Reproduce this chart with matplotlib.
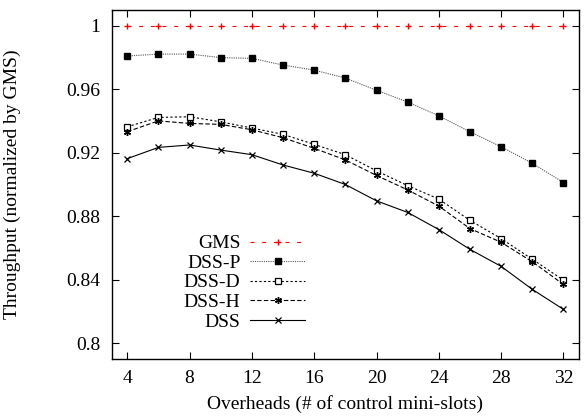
import numpy as np
import matplotlib
matplotlib.use('Agg')
import matplotlib.pyplot as plt

plt.rcParams['font.family'] = ['Liberation Serif', 'DejaVu Serif']
plt.rcParams['mathtext.fontset'] = 'stix'

# ── data ─────────────────────────────────────────────────────────────────────
overheads = [4, 6, 8, 10, 12, 14, 16, 18, 20, 22, 24, 26, 28, 30, 32]
gms   = [1.0] * 15
dss_p = [0.981, 0.9822, 0.9822, 0.980, 0.9795, 0.9753, 0.9721, 0.9671,
         0.9594, 0.952, 0.9433, 0.9332, 0.9238, 0.9134, 0.9012]
dss_d = [0.9364, 0.9423, 0.9427, 0.9395, 0.9356, 0.9316, 0.9253, 0.9188,
         0.9086, 0.8993, 0.8908, 0.8774, 0.8659, 0.8529, 0.8397]
dss_h = [0.9333, 0.9401, 0.9385, 0.9379, 0.9345, 0.9295, 0.9228, 0.9155,
         0.9057, 0.8966, 0.8864, 0.8722, 0.8636, 0.8513, 0.837]
dss   = [0.9163, 0.9234, 0.9249, 0.9217, 0.9188, 0.9123, 0.9071, 0.900,
         0.8897, 0.8824, 0.8716, 0.8591, 0.8484, 0.8339, 0.8213]

xticks = [4, 8, 12, 16, 20, 24, 28, 32]
yticks = [0.8, 0.84, 0.88, 0.92, 0.96, 1.0]
ytick_labels = ['0.8', '0.84', '0.88', '0.92', '0.96', '1']

# ── plot ─────────────────────────────────────────────────────────────────────
FS = 14
fig = plt.figure(figsize=(5.86, 4.18), dpi=100)
ax = fig.add_axes([111.7/586, 1 - 359/418, (579-111.7)/586, (359-10)/418])

lw = 0.8
ax.plot(overheads, gms, color='red', lw=lw, ls=(0, (3.5, 7)), marker='+',
        ms=5, mew=1.0, label='GMS')
ax.plot(overheads, dss_p, color='#555555', lw=lw, ls=(0, (1, 1)), marker='s',
        ms=4, mfc='black', mec='black', label='DSS-P')
ax.plot(overheads, dss_d, color='black', lw=lw, ls=(0, (2, 2)), marker='s',
        ms=4.2, mfc='white', mec='black', mew=0.9, label='DSS-D')
ax.plot(overheads, dss_h, color='black', lw=lw, ls=(0, (4, 2)), marker=(6, 2, 0),
        ms=5, mew=1.0, label='DSS-H')
ax.plot(overheads, dss, color='black', lw=lw, ls='-', marker='x',
        ms=4, mew=0.9, label='DSS')

ax.set_xlim(3, 33)
ax.set_ylim(0.79, 1.01)
ax.set_xticks(xticks)
ax.set_yticks(yticks)
ax.set_yticklabels(ytick_labels)
ax.tick_params(direction='in', top=True, right=True, length=5, width=0.8,
               labelsize=FS, pad=8)
for s in ax.spines.values():
    s.set_linewidth(1.0)

ax.set_xlabel('Overheads (# of control mini-slots)', fontsize=FS, labelpad=6)
ax.set_ylabel('Throughput (normalized by GMS)', fontsize=FS)
ax.yaxis.set_label_coords(-(111.7 - 21) / (579 - 111.7), 0.5)

leg = ax.legend(loc='upper right', bbox_to_anchor=(0.414, 0.356),
                frameon=False, markerfirst=False, fontsize=FS,
                handlelength=2.83, handletextpad=0.5, labelspacing=0.1,
                borderpad=0, borderaxespad=0, numpoints=1)
for t in leg.get_texts():
    t.set_ha('right')

fig.savefig('out.png', dpi=100)
